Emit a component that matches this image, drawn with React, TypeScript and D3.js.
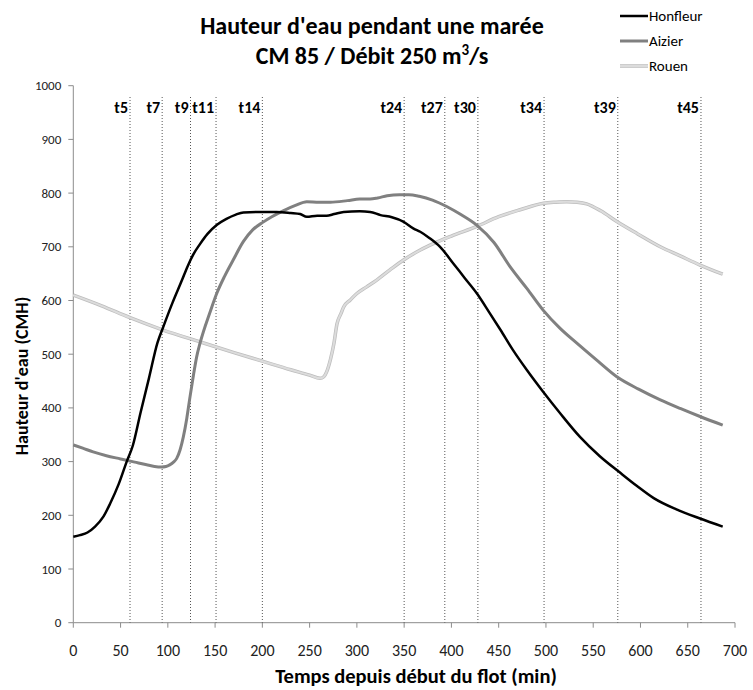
import React from "react";
import * as d3 from "d3";

// water height (CMH) against time since start of flood (min)
const honfleur: [number, number][] = [
  [0, 160], [7, 163], [15, 168], [23, 179], [32, 198], [39, 222], [48, 258], [56.5, 300],
  [63, 330], [71, 390], [80, 455], [89, 521], [95, 550], [105, 596], [115, 638], [121, 664],
  [127, 686], [134, 705], [142, 724], [152, 741], [162, 752], [172, 760], [180, 764],
  [195, 765], [215, 765], [230, 763], [240, 761], [247, 756], [258, 758], [268, 758],
  [276, 761], [286, 765], [303, 766], [314, 765], [325, 759], [337, 755], [349, 747],
  [360, 734], [367, 728], [377, 716], [388, 700], [402, 669], [414, 642], [427, 613],
  [440, 578], [452, 545], [465, 508], [480, 470], [497, 430], [515, 390], [536, 346],
  [557, 310], [578, 280], [596, 255], [614, 232], [638, 211], [663, 194], [687, 179],
];
const aizier: [number, number][] = [
  [0, 331], [10, 325], [21, 318], [35, 311], [50, 305], [65, 299], [77.6, 294], [86, 291],
  [93.5, 290], [98, 291], [102, 294], [106, 299], [109.4, 306], [113, 322], [116.4, 346],
  [120, 380], [123.5, 421], [127, 460], [130.5, 495], [134, 520], [145, 580], [151.7, 613],
  [160, 645], [169, 675], [180, 710], [190, 732], [200, 745], [210, 756], [222, 767],
  [235, 777], [247, 784], [260, 783], [272, 783], [290, 786], [303, 789], [314, 789],
  [322, 791], [332, 795], [345, 797], [355, 797], [366, 794], [380, 787], [395, 775],
  [410, 760], [427, 740], [445, 708], [462, 663], [480, 622], [497, 582], [515, 548],
  [533, 520], [555, 487], [575, 458], [598, 435], [621, 415], [642, 399], [663, 384], [687, 368],
];
const rouen: [number, number][] = [
  [0, 610], [30, 590], [60, 568], [95, 545], [134, 523], [170, 503], [200, 487], [230, 471],
  [250, 461], [261, 455], [265, 458], [268, 467], [272, 490], [275.7, 520], [279, 557],
  [283, 575], [286, 588], [293, 601], [300, 613], [310, 625], [321, 638], [335, 657],
  [349, 675], [367, 694], [381, 706], [400, 720], [427, 738], [450, 756], [472.7, 769],
  [497.5, 781], [510, 783], [522, 784], [533, 783], [543, 780], [558, 767], [575, 747],
  [597, 724], [621, 700], [642, 683], [663, 666], [687, 649],
];

const stepLabels = ["t5", "t7", "t9", "t11", "t14", "t24", "t27", "t30", "t34", "t39", "t45"];
const stepTimes = [60, 94, 124, 151, 200, 350, 393, 428, 498, 576, 664];

const xTicks = d3.range(0, 701, 50);
const yTicks = d3.range(0, 1001, 100);

const font = "Carlito, Lato, 'Open Sans', sans-serif";

const App = () => {
  const width = 753;
  const height = 690;
  const x = d3.scaleLinear().domain([0, 700]).range([73.3, 735]);
  const y = d3.scaleLinear().domain([0, 1000]).range([622.7, 85.7]);
  const line = d3
    .line<[number, number]>()
    .x((d) => x(d[0]))
    .y((d) => y(d[1]))
    .curve(d3.curveMonotoneX);

  const legend = [
    { name: "Honfleur", y: 16 },
    { name: "Aizier", y: 41 },
    { name: "Rouen", y: 66 },
  ];

  return (
    <svg
      width={width}
      height={height}
      style={{ position: "absolute", left: 0, top: 0, background: "#fff" }}
      fontFamily={font}
    >
      {/* title */}
      <text x={372} y={34} textAnchor="middle" fontSize={24} fontWeight={700} fill="#000">
        Hauteur d'eau pendant une marée
      </text>
      <text x={372} y={64} textAnchor="middle" fontSize={24} fontWeight={700} fill="#000">
        CM 85 / Débit 250 m<tspan fontSize={15} dy={-9}>3</tspan>
        <tspan dy={9}>/s</tspan>
      </text>

      {/* legend */}
      {legend.map((l, i) => (
        <g key={l.name}>
          {i === 2 ? (
            <>
              <line x1={620} x2={648} y1={l.y} y2={l.y} stroke="#bdbdbd" strokeWidth={3.5} />
              <line x1={620} x2={648} y1={l.y} y2={l.y} stroke="#dcdcdc" strokeWidth={2} />
            </>
          ) : (
            <line
              x1={620}
              x2={648}
              y1={l.y}
              y2={l.y}
              stroke={i === 0 ? "#000" : "#808080"}
              strokeWidth={i === 0 ? 2.5 : 3}
            />
          )}
          <text x={649} y={l.y + 5} fontSize={15} fill="#000">
            {l.name}
          </text>
        </g>
      ))}

      {/* axes */}
      <line x1={x(0)} x2={x(0)} y1={y(0)} y2={y(1000)} stroke="#8c8c8c" strokeWidth={1} />
      <line x1={x(0)} x2={x(700)} y1={y(0)} y2={y(0)} stroke="#8c8c8c" strokeWidth={1} />
      {yTicks.map((t) => (
        <g key={"y" + t}>
          <line x1={x(0) - 5} x2={x(0)} y1={y(t)} y2={y(t)} stroke="#8c8c8c" />
          <text x={x(0) - 12} y={y(t) + 4.5} textAnchor="end" fontSize={13} fill="#222">
            {t}
          </text>
        </g>
      ))}
      {xTicks.map((t) => (
        <g key={"x" + t}>
          <line x1={x(t)} x2={x(t)} y1={y(0)} y2={y(0) + 5} stroke="#8c8c8c" />
          <text x={x(t)} y={656} textAnchor="middle" fontSize={16} fill="#222">
            {t}
          </text>
        </g>
      ))}
      <text x={416} y={683} textAnchor="middle" fontSize={20.5} fontWeight={700} fill="#000">
        Temps depuis début du flot (min)
      </text>
      <text
        transform={`translate(28,${376}) rotate(-90)`}
        textAnchor="middle"
        fontSize={18}
        fontWeight={700}
        fill="#000"
      >
        Hauteur d'eau (CMH)
      </text>

      {/* time step markers */}
      {stepTimes.map((t, i) => (
        <g key={stepLabels[i]}>
          <line
            x1={x(t)}
            x2={x(t)}
            y1={97}
            y2={y(0)}
            stroke="#555"
            strokeWidth={1}
            strokeDasharray="1,2"
          />
          <text x={x(t) - 2} y={113} textAnchor="end" fontSize={16} fontWeight={700} fill="#000">
            {stepLabels[i]}
          </text>
        </g>
      ))}

      {/* series */}
      <path d={line(rouen) || ""} fill="none" stroke="#bdbdbd" strokeWidth={3.5} />
      <path d={line(rouen) || ""} fill="none" stroke="#dcdcdc" strokeWidth={2} />
      <path d={line(aizier) || ""} fill="none" stroke="#808080" strokeWidth={3} />
      <path d={line(honfleur) || ""} fill="none" stroke="#000" strokeWidth={2.5} />
    </svg>
  );
};

export default App;
